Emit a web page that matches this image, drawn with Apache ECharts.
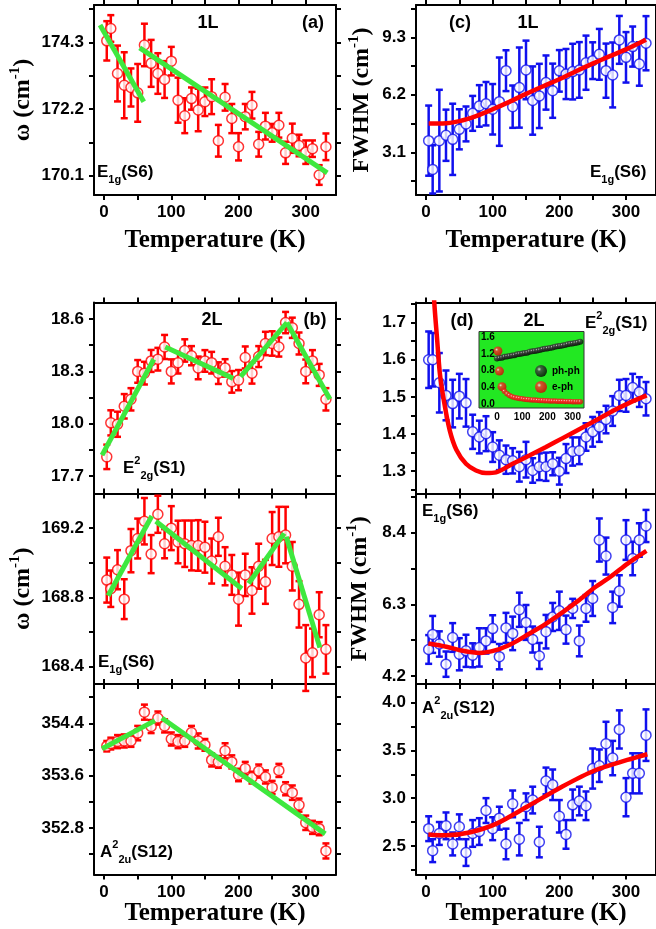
<!DOCTYPE html>
<html>
<head>
<meta charset="utf-8">
<title>Raman modes vs temperature</title>
<script src="https://cdn.jsdelivr.net/npm/echarts@6/dist/echarts.min.js"></script>
<style>
html, body { margin: 0; background: #fff; }
#box { width: 656px; height: 929px; }
</style>
</head>
<body>
<div id="box"></div>
<script>
// temperatures (K) of the measured points
var temps = [4, 10, 20, 30, 40, 50, 60, 70, 80, 90, 100, 110, 120, 130, 140, 150, 160,
             170, 180, 190, 200, 210, 220, 230, 240, 250, 260, 270, 280, 290, 300, 310, 320, 330];

// (a) 1L E1g(S6) peak position
var aW   = [174.35, 174.74, 173.32, 172.95, 172.88, 172.71, 174.22, 173.64, 173.32, 173.13, 173.71, 172.48,
            171.99, 172.53, 172.17, 172.43, 172.59, 171.20, 172.57, 171.90, 171.01, 171.96, 172.32, 171.09,
            171.66, 171.45, 171.69, 170.82, 171.28, 171.05, 170.84, 170.95, 170.12, 171.01];
var aErr = [0.62, 0.42, 0.88, 1.04, 0.60, 0.91, 0.67, 0.74, 0.64, 0.58, 0.45, 0.71, 0.55, 0.35, 0.67, 0.45, 0.55,
            0.50, 0.42, 0.46, 0.43, 0.40, 0.42, 0.39, 0.42, 0.28, 0.39, 0.35, 0.46, 0.34, 0.37, 0.26, 0.31, 0.42];
var aLines = [[[-6, 174.85], [59, 172.43]], [[53, 174.13], [332, 170.19]]];

// (c) 1L E1g(S6) FWHM
var cW   = [3.73, 2.18, 3.73, 4.02, 3.80, 4.34, 4.63, 5.20, 5.60, 5.72, 5.42, 5.83, 7.50, 5.56, 6.59, 7.54, 5.89,
            6.14, 6.86, 6.42, 7.49, 7.32, 7.45, 7.54, 7.93, 8.04, 8.38, 7.50, 7.27, 9.16, 8.22, 8.80, 7.86, 8.98];
var cErr = [1.89, 1.30, 2.74, 1.38, 1.92, 1.08, 0.94, 0.94, 1.12, 1.17, 1.36, 2.38, 1.10, 1.14, 2.16, 1.58, 1.84,
            1.73, 1.46, 1.46, 1.12, 1.35, 1.50, 1.50, 1.46, 0.99, 1.37, 1.46, 1.75, 1.29, 1.36, 1.08, 1.17, 1.46];
var cFit = [[4, 4.66], [25, 4.66], [50, 4.78], [75, 5.05], [100, 5.42], [125, 5.82], [150, 6.25], [175, 6.65],
            [200, 7.04], [225, 7.47], [250, 7.88], [275, 8.27], [300, 8.65], [330, 9.17]];

// (b) 2L peak positions
var b1W   = [17.81, 18.005, 17.997, 18.10, 18.14, 18.30, 18.29, 18.36, 18.37, 18.44, 18.30, 18.35, 18.42, 18.39,
             18.32, 18.36, 18.35, 18.29, 18.32, 18.24, 18.25, 18.38, 18.29, 18.385, 18.46, 18.46, 18.44, 18.58,
             18.55, 18.46, 18.30, 18.36, 18.28, 18.14];
var b1Err = [0.07, 0.072, 0.072, 0.07, 0.064, 0.065, 0.065, 0.063, 0.065, 0.069, 0.069, 0.062, 0.064, 0.055,
             0.065, 0.062, 0.062, 0.062, 0.05, 0.062, 0.058, 0.063, 0.06, 0.06, 0.067, 0.07, 0.055, 0.061,
             0.058, 0.063, 0.068, 0.062, 0.063, 0.064];
var b1Lines = [[[-3, 17.82], [74, 18.37]], [[91, 18.44], [192, 18.26]], [[203, 18.27], [272, 18.58]], [[272, 18.58], [336, 18.14]]];

var b2W   = [168.90, 168.85, 168.96, 168.79, 169.07, 169.14, 169.24, 169.05, 169.28, 169.11, 169.20, 169.12,
             169.11, 169.10, 169.10, 169.09, 169.01, 169.15, 168.98, 168.93, 168.79, 168.93, 168.84, 168.98,
             168.89, 169.14, 169.15, 169.16, 168.98, 168.76, 168.45, 168.48, 168.70, 168.50];
var b2Err = [0.13, 0.105, 0.113, 0.115, 0.125, 0.115, 0.134, 0.11, 0.107, 0.084, 0.127, 0.123, 0.134, 0.144,
             0.146, 0.147, 0.13, 0.11, 0.11, 0.115, 0.153, 0.122, 0.134, 0.13, 0.127, 0.153, 0.173, 0.163,
             0.14, 0.134, 0.19, 0.14, 0.13, 0.14];
var b2Lines = [[[6, 168.81], [71, 169.27]], [[77, 169.24], [205, 168.85]], [[215, 168.88], [268, 169.17]], [[271, 169.15], [321, 168.51]]];

var b3W   = [354.05, 354.09, 354.12, 354.13, 354.13, 354.25, 354.57, 354.35, 354.48, 354.36, 354.16, 354.12,
             354.13, 354.26, 354.13, 354.07, 353.84, 353.81, 353.98, 353.81, 353.61, 353.71, 353.57, 353.67,
             353.58, 353.42, 353.68, 353.40, 353.34, 353.15, 352.88, 352.81, 352.79, 352.45];
var b3Err = [0.08, 0.09, 0.1, 0.1, 0.09, 0.11, 0.115, 0.1, 0.1, 0.1, 0.1, 0.1, 0.09, 0.1, 0.115, 0.09, 0.1,
             0.09, 0.115, 0.1, 0.095, 0.1, 0.09, 0.1, 0.1, 0.1, 0.1, 0.1, 0.11, 0.1, 0.11, 0.1, 0.1, 0.115];
var b3Lines = [[[-3, 354.01], [75.5, 354.44]], [[86, 354.48], [329, 352.71]]];

// (d) 2L FWHM
var d1W   = [1.60, 1.60, 1.538, 1.504, 1.482, 1.502, 1.484, 1.406, 1.392, 1.401, 1.365, 1.343, 1.331, 1.328,
             1.312, 1.331, 1.302, 1.312, 1.312, 1.32, 1.30, 1.334, 1.353, 1.355, 1.392, 1.406, 1.419, 1.439,
             1.462, 1.504, 1.504, 1.525, 1.513, 1.495];
var d1Err = [0.076, 0.072, 0.08, 0.067, 0.064, 0.06, 0.064, 0.046, 0.044, 0.047, 0.04, 0.04, 0.038, 0.034,
             0.04, 0.048, 0.033, 0.036, 0.038, 0.031, 0.036, 0.039, 0.038, 0.036, 0.037, 0.04, 0.04, 0.037,
             0.04, 0.042, 0.044, 0.037, 0.04, 0.045];
var d1Fit = [[10, 1.84], [12.4, 1.754], [16.8, 1.652], [20.8, 1.563], [26.7, 1.491], [35.6, 1.41], [45.5, 1.358],
             [60, 1.32], [75, 1.302], [90, 1.295], [105, 1.297], [130, 1.32], [155, 1.342], [180, 1.365],
             [205, 1.389], [230, 1.413], [255, 1.437], [280, 1.462], [305, 1.484], [331, 1.504]];

var d2W   = [4.98, 5.42, 5.14, 4.55, 5.33, 4.84, 4.94, 4.81, 5.04, 5.23, 5.59, 4.77, 5.61, 5.45, 6.14, 5.77, 5.27,
             4.79, 5.50, 5.93, 6.11, 5.56, 6.18, 5.23, 6.18, 6.47, 8.18, 7.71, 6.21, 6.69, 8.18, 7.64, 8.18, 8.59];
var d2Err = [0.42, 0.54, 0.37, 0.37, 0.42, 0.47, 0.47, 0.35, 0.56, 0.37, 0.39, 0.37, 0.44, 0.49, 0.50, 0.51, 0.38,
             0.38, 0.49, 0.41, 0.56, 0.41, 0.28, 0.45, 0.39, 0.51, 0.63, 0.54, 0.46, 0.46, 0.58, 0.49, 0.49, 0.47];
var d2Fit = [[3.5, 5.155], [30.6, 5.06], [55.4, 4.94], [80, 4.88], [104.8, 4.96], [129.5, 5.155], [154, 5.43],
             [179, 5.72], [203.6, 6.05], [228, 6.40], [253, 6.79], [277.8, 7.12], [302.5, 7.49], [330.6, 7.86]];

var d3W   = [2.68, 2.45, 2.63, 2.71, 2.52, 2.70, 2.43, 2.63, 2.65, 2.87, 2.68, 2.79, 2.52, 2.94, 2.57, 2.91, 2.98,
             2.54, 3.18, 3.14, 2.81, 2.62, 2.93, 2.97, 2.92, 3.31, 3.34, 3.57, 3.42, 3.72, 3.01, 3.26, 3.26, 3.66];
var d3Err = [0.13, 0.12, 0.12, 0.14, 0.12, 0.13, 0.14, 0.14, 0.14, 0.13, 0.12, 0.12, 0.16, 0.14, 0.17, 0.14, 0.14,
             0.16, 0.14, 0.16, 0.17, 0.15, 0.16, 0.15, 0.15, 0.21, 0.17, 0.23, 0.18, 0.2, 0.2, 0.21, 0.21, 0.27];
var d3Fit = [[3.5, 2.62], [30, 2.61], [65, 2.64], [105, 2.73], [154, 2.92], [204, 3.12], [253, 3.29], [302, 3.40], [332, 3.46]];

// inset of (d): ph-ph and e-ph contributions
var insetT   = [0, 10, 20, 30, 40, 50, 60, 70, 80, 90, 100, 110, 120, 130, 140, 150, 160,
                170, 180, 190, 200, 210, 220, 230, 240, 250, 260, 270, 280, 290, 300, 310, 320, 330];
var phph     = [1.09, 1.10, 1.11, 1.13, 1.14, 1.15, 1.16, 1.17, 1.19, 1.20, 1.21, 1.22, 1.23, 1.25, 1.26, 1.27, 1.28,
                1.29, 1.31, 1.32, 1.33, 1.34, 1.35, 1.37, 1.38, 1.39, 1.40, 1.41, 1.43, 1.44, 1.45, 1.46, 1.47, 1.49];
var ephT     = [4, 10, 20, 30, 40, 50, 60, 70, 80, 90, 100, 110, 120, 130, 140, 150, 160,
                170, 180, 190, 200, 210, 220, 230, 240, 250, 260, 270, 280, 290, 300, 310, 320, 330];
var eph      = [1.27, 0.79, 0.42, 0.31, 0.25, 0.21, 0.18, 0.16, 0.15, 0.14, 0.13, 0.12, 0.115, 0.11, 0.105, 0.10, 0.095,
                0.09, 0.088, 0.085, 0.082, 0.08, 0.078, 0.076, 0.074, 0.072, 0.07, 0.068, 0.066, 0.065, 0.063, 0.062, 0.06, 0.06];

// axis ranges and tick values
var tRange = [-15, 345];
var xTicks = [0, 50, 100, 150, 200, 250, 300];
var xLabels = [0, 100, 200, 300];
var aRange = [169.49, 175.48], aTicks = [170.1, 171.15, 172.2, 173.25, 174.3, 175.35], aLabels = [170.1, 172.2, 174.3];
var cRange = [0.80, 11.04], cTicks = [1.55, 3.1, 4.65, 6.2, 7.75, 9.3, 10.85], cLabels = [3.1, 6.2, 9.3];
var b1Range = [17.6, 18.695], b1Ticks = [17.7, 17.85, 18.0, 18.15, 18.3, 18.45, 18.6], b1Labels = [17.7, 18.0, 18.3, 18.6];
var b2Range = [168.30, 169.40], b2Ticks = [168.4, 168.6, 168.8, 169.0, 169.2], b2Labels = [168.4, 168.8, 169.2];
var b3Range = [352.09, 355.0], b3Ticks = [352.4, 352.8, 353.2, 353.6, 354.0, 354.4, 354.8], b3Labels = [352.8, 353.6, 354.4];
var d1Range = [1.24, 1.754], d1Ticks = [1.25, 1.3, 1.35, 1.4, 1.45, 1.5, 1.55, 1.6, 1.65, 1.7, 1.75], d1Labels = [1.3, 1.4, 1.5, 1.6, 1.7];
var d2Range = [3.97, 9.54], d2Ticks = [4.2, 5.25, 6.3, 7.35, 8.4, 9.45], d2Labels = [4.2, 6.3, 8.4];
var d3Range = [2.20, 4.196], d3Ticks = [2.25, 2.5, 2.75, 3.0, 3.25, 3.5, 3.75, 4.0], d3Labels = [2.5, 3.0, 3.5, 4.0];
var inRange = [-0.088, 1.733], inLabels = [0, 0.4, 0.8, 1.2, 1.6], inX = [0, 100, 200, 300];

var RED = '#ff0000', BLUE = '#1010ee', GREEN = '#3ee83e';
var SANS = '"Liberation Sans", Arial, sans-serif';
var SERIF = '"Liberation Serif", "Times New Roman", serif';

var chart = echarts.init(document.getElementById('box'));

var grids = [], xAxes = [], yAxes = [], series = [];

function zip(xs, ys, es) {
  return xs.map(function (x, i) { return es ? [x, ys[i], es[i]] : [x, ys[i]]; });
}

var nameStyle = {
  fontFamily: SERIF, fontWeight: 'bold', fontSize: 24, color: '#000', lineHeight: 30,
  rich: { sup: { fontFamily: SERIF, fontWeight: 'bold', fontSize: 15, color: '#000', verticalAlign: 'top', lineHeight: 30 } }
};

// one boxed panel: axes on all four sides, ticks pointing out
function panel(left, top, height, yRange, yTicks, yLabels, opt) {
  var g = grids.length;
  grids.push({ left: left, top: top, width: 242, height: height, show: false });
  var line = { onZero: false, lineStyle: { color: '#000', width: 2 } };
  var tick = function (vals) { return { show: true, length: 5, lineStyle: { color: '#000', width: 2 }, customValues: vals }; };
  var lab = { fontFamily: SANS, fontWeight: 'bold', fontSize: 17, color: '#000' };
  xAxes.push({
    gridIndex: g, type: 'value', position: 'bottom', min: tRange[0], max: tRange[1],
    axisLine: line, axisTick: tick(xTicks), splitLine: { show: false },
    axisLabel: opt.xLabels ? Object.assign({ show: true, margin: 9, customValues: xLabels }, lab) : { show: false },
    name: opt.xLabels ? 'Temperature (K)' : '', nameLocation: 'middle', nameGap: opt.xGap || 30,
    nameTextStyle: { fontFamily: SERIF, fontWeight: 'bold', fontSize: 25, color: '#000' }
  });
  xAxes.push({
    gridIndex: g, type: 'value', position: 'top', min: tRange[0], max: tRange[1],
    axisLine: line, axisTick: tick(xTicks), axisLabel: { show: false }, splitLine: { show: false }
  });
  yAxes.push({
    gridIndex: g, type: 'value', position: 'left', min: yRange[0], max: yRange[1],
    axisLine: line, axisTick: tick(yTicks), splitLine: { show: false },
    axisLabel: Object.assign({ show: true, margin: 10, customValues: yLabels,
      formatter: function (v) { return v.toFixed(1); } }, lab),
    name: opt.yName || '', nameLocation: 'middle', nameGap: opt.yGap || 50, nameRotate: 90,
    nameTextStyle: nameStyle
  });
  yAxes.push({
    gridIndex: g, type: 'value', position: 'right', min: yRange[0], max: yRange[1],
    axisLine: line, axisTick: tick(yTicks), axisLabel: { show: false }, splitLine: { show: false }
  });
  return { x: 2 * g, y: 2 * g };
}

function errBars(ax, vals, errs, color) {
  series.push({
    type: 'custom', xAxisIndex: ax.x, yAxisIndex: ax.y, z: 2, silent: true,
    data: zip(temps, vals, errs), encode: { x: 0, y: 1 },
    renderItem: function (params, api) {
      var x = api.value(0), y = api.value(1), e = api.value(2);
      var hi = api.coord([x, y + e]), lo = api.coord([x, y - e]);
      var st = { stroke: color, lineWidth: 2.5 };
      return { type: 'group', children: [
        { type: 'line', shape: { x1: hi[0], y1: hi[1], x2: lo[0], y2: lo[1] }, style: st },
        { type: 'line', shape: { x1: hi[0] - 3.5, y1: hi[1], x2: hi[0] + 3.5, y2: hi[1] }, style: st },
        { type: 'line', shape: { x1: lo[0] - 3.5, y1: lo[1], x2: lo[0] + 3.5, y2: lo[1] }, style: st }
      ] };
    }
  });
  series.push({
    type: 'scatter', xAxisIndex: ax.x, yAxisIndex: ax.y, z: 3, symbol: 'circle', symbolSize: 10,
    itemStyle: { color: '#fff', borderColor: color, borderWidth: 1.5 },
    data: zip(temps, vals)
  });
}

function fitLine(ax, pts, color, width, smooth) {
  series.push({
    type: 'line', xAxisIndex: ax.x, yAxisIndex: ax.y, z: 4, showSymbol: false, smooth: smooth || false,
    lineStyle: { color: color, width: width }, data: pts, clip: true
  });
}

// left column
var pa = panel(94, 5, 190, aRange, aTicks, aLabels, { xLabels: true, xGap: 33, yName: 'ω (cm{sup|-1})', yGap: 56 });
errBars(pa, aW, aErr, RED);
aLines.forEach(function (s) { fitLine(pa, s, GREEN, 5); });

var pb1 = panel(94, 302.5, 191, b1Range, b1Ticks, b1Labels, {});
errBars(pb1, b1W, b1Err, RED);
b1Lines.forEach(function (s) { fitLine(pb1, s, GREEN, 5); });

var pb2 = panel(94, 493.5, 190.5, b2Range, b2Ticks, b2Labels, { yName: 'ω (cm{sup|-1})', yGap: 54 });
errBars(pb2, b2W, b2Err, RED);
b2Lines.forEach(function (s) { fitLine(pb2, s, GREEN, 5); });

var pb3 = panel(94, 684, 190.5, b3Range, b3Ticks, b3Labels, { xLabels: true, xGap: 25 });
errBars(pb3, b3W, b3Err, RED);
b3Lines.forEach(function (s) { fitLine(pb3, s, GREEN, 5); });

// right column
var pc = panel(416, 5, 190, cRange, cTicks, cLabels, { xLabels: true, xGap: 33, yName: 'FWHM (cm{sup|-1})', yGap: 39 });
errBars(pc, cW, cErr, BLUE);
fitLine(pc, cFit, RED, 4.5, 0.3);

var pd1 = panel(416, 302.5, 191, d1Range, d1Ticks, d1Labels, {});
errBars(pd1, d1W, d1Err, BLUE);
fitLine(pd1, d1Fit, RED, 4.5, 0.3);

var pd2 = panel(416, 493.5, 190.5, d2Range, d2Ticks, d2Labels, { yName: 'FWHM (cm{sup|-1})', yGap: 41 });
errBars(pd2, d2W, d2Err, BLUE);
fitLine(pd2, d2Fit, RED, 4.5, 0.3);

var pd3 = panel(416, 684, 190.5, d3Range, d3Ticks, d3Labels, { xLabels: true, xGap: 25 });
errBars(pd3, d3W, d3Err, BLUE);
fitLine(pd3, d3Fit, RED, 4.5, 0.3);

// inset
var gi = grids.length;
grids.push({ left: 479, top: 331.5, width: 105, height: 76.5, show: true,
  backgroundColor: '#22e822', borderColor: '#333', borderWidth: 1 });
xAxes.push({ gridIndex: gi, type: 'value', min: -71, max: 345, position: 'bottom',
  axisLine: { show: false, onZero: false }, axisTick: { show: false }, splitLine: { show: false },
  axisLabel: { show: true, margin: 4, customValues: inX, fontFamily: SANS, fontWeight: 'bold', fontSize: 10, color: '#000' } });
yAxes.push({ gridIndex: gi, type: 'value', min: inRange[0], max: inRange[1], position: 'left',
  axisLine: { show: false, onZero: false }, axisTick: { show: false }, splitLine: { show: false },
  axisLabel: { show: true, inside: true, margin: 2, customValues: inLabels,
    formatter: function (v) { return v.toFixed(1); },
    fontFamily: SANS, fontWeight: 'bold', fontSize: 10, color: '#000' } });
var ix = xAxes.length - 1, iy = yAxes.length - 1;
var blackBall = { type: 'radial', x: 0.35, y: 0.35, r: 0.7,
  colorStops: [{ offset: 0, color: '#e8e8e8' }, { offset: 0.25, color: '#444444' }, { offset: 1, color: '#000000' }] };
var redBall = { type: 'radial', x: 0.35, y: 0.35, r: 0.7,
  colorStops: [{ offset: 0, color: '#ffffff' }, { offset: 0.25, color: '#ff3030' }, { offset: 1, color: '#d40000' }] };
series.push({ name: 'ph-ph', type: 'scatter', xAxisIndex: ix, yAxisIndex: iy, z: 5, symbolSize: 6,
  itemStyle: { color: blackBall }, data: zip(insetT, phph) });
series.push({ name: 'e-ph', type: 'scatter', xAxisIndex: ix, yAxisIndex: iy, z: 5,
  symbolSize: function (v) { return v[1] > 0.35 ? 9 : 5.5; },
  itemStyle: { color: redBall }, data: zip(ephT, eph) });

// panel annotations
var sub = { fontFamily: SANS, fontWeight: 'bold', fontSize: 11, fill: '#000', verticalAlign: 'bottom', lineHeight: 26 };
var sup = { fontFamily: SANS, fontWeight: 'bold', fontSize: 11, fill: '#000', verticalAlign: 'top', lineHeight: 26 };
function txt(x, y, s, align, size) {
  return { type: 'text', x: x, y: y, z: 10, silent: true,
    style: { text: s, fill: '#000', fontFamily: SANS, fontWeight: 'bold', fontSize: size || 17,
      lineHeight: 26, align: align || 'left', verticalAlign: 'middle', rich: { sub: sub, sup: sup } } };
}
var E1g = 'E{sub|1g}(S6)', E2g = 'E{sup|2}{sub|2g}(S1)', A2u = 'A{sup|2}{sub|2u}(S12)';
var texts = [
  txt(208, 23, '1L', 'center', 18), txt(313, 23, '(a)', 'center', 18), txt(97, 172, E1g),
  txt(460, 23, '(c)', 'center', 18), txt(528, 23, '1L', 'center', 18), txt(590, 172, E1g),
  txt(212, 320, '2L', 'center', 18), txt(315, 320, '(b)', 'center', 18), txt(123, 468, E2g),
  txt(98, 662, E1g), txt(100, 852, A2u),
  txt(462, 321, '(d)', 'center', 18), txt(534, 321, '2L', 'center', 18), txt(585, 323, E2g),
  txt(422, 511, E1g), txt(422, 708, A2u)
];

chart.setOption({
  animation: false,
  backgroundColor: '#fff',
  grid: grids,
  xAxis: xAxes,
  yAxis: yAxes,
  legend: {
    data: ['ph-ph', 'e-ph'], orient: 'vertical', left: 530, top: 360,
    itemWidth: 12, itemHeight: 12, itemGap: 4, icon: 'circle',
    textStyle: { fontFamily: SANS, fontWeight: 'bold', fontSize: 10, color: '#000' }
  },
  graphic: texts,
  series: series
});
</script>
</body>
</html>
